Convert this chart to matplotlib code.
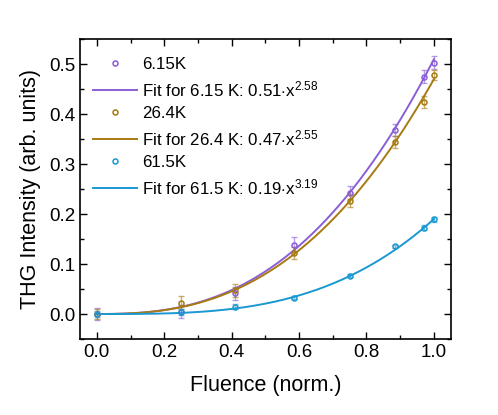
import numpy as np
import matplotlib
matplotlib.use("Agg")
import matplotlib.pyplot as plt
from matplotlib.ticker import MultipleLocator

plt.rcParams['font.family'] = ['Liberation Sans', 'DejaVu Sans']
plt.rcParams['mathtext.fontset'] = 'custom'
plt.rcParams['mathtext.rm'] = 'Liberation Sans'
plt.rcParams['mathtext.it'] = 'Liberation Sans'

fluence = [0.0, 0.25, 0.41, 0.585, 0.75, 0.885, 0.97, 1.0]

y_615 = [0.0, 0.005, 0.042, 0.139, 0.243, 0.368, 0.475, 0.503]
e_615 = [0.012, 0.013, 0.013, 0.015, 0.013, 0.012, 0.013, 0.013]

y_264 = [0.0, 0.023, 0.048, 0.122, 0.227, 0.345, 0.425, 0.479]
e_264 = [0.010, 0.013, 0.013, 0.012, 0.013, 0.012, 0.012, 0.010]

y_615b = [0.0, 0.005, 0.015, 0.033, 0.077, 0.136, 0.173, 0.190]
e_615b = [0.006, 0.006, 0.005, 0.003, 0.003, 0.003, 0.005, 0.005]

labels = ["6.15K", "26.4K", "61.5K"]
fit_temps = ["6.15", "26.4", "61.5"]
fit_amp = [0.51, 0.47, 0.19]
fit_exp = [2.58, 2.55, 3.19]

colors = ["#8a5fd6", "#a87a12", "#1a98d2"]

fig = plt.figure(figsize=(4.98, 4.15), dpi=100)
ax = fig.add_axes([80/498, 1-339/415, (450.7-80)/498, (339-39.3)/415])

xf = np.linspace(0, 1, 200)
series = [(y_615, e_615), (y_264, e_264), (y_615b, e_615b)]
handles = []
hlabels = []
for i, (y, e) in enumerate(series):
    c = colors[i]
    ax.errorbar(fluence, y, yerr=e, fmt='none', ecolor=c, alpha=0.6,
                elinewidth=1.0, capsize=2.5, capthick=1.0, zorder=2)
    h1, = ax.plot(fluence, y, 'o', ms=3.6, mfc='none', mec=c, mew=1.1, zorder=3)
    h2, = ax.plot(xf, fit_amp[i] * xf ** fit_exp[i], '-', color=c, lw=1.4, zorder=2)
    handles += [h1, h2]
    hlabels += [labels[i],
                "Fit for %s K: %.2f$\\cdot$x$^{%.2f}$" % (fit_temps[i], fit_amp[i], fit_exp[i])]

ax.set_xlim(-0.05, 1.05)
ax.set_ylim(-0.05, 0.55)
ax.xaxis.set_major_locator(MultipleLocator(0.2))
ax.xaxis.set_minor_locator(MultipleLocator(0.1))
ax.yaxis.set_major_locator(MultipleLocator(0.1))
ax.yaxis.set_minor_locator(MultipleLocator(0.05))
ax.tick_params(which='both', direction='in', top=True, right=True, labelsize=13.5, width=1.0)
ax.tick_params(which='major', length=5)
ax.tick_params(which='minor', length=3)
for s in ax.spines.values():
    s.set_linewidth(1.2)
ax.set_xlabel("Fluence (norm.)", fontsize=15.5, labelpad=10)
ax.set_ylabel("THG Intensity (arb. units)", fontsize=15.5, labelpad=6)

ax.legend(handles, hlabels, loc='upper left', frameon=False, fontsize=12.2,
          handlelength=2.6, handletextpad=0.3, labelspacing=0.42,
          bbox_to_anchor=(0.008, 0.975), borderaxespad=0.2)

fig.savefig("out.png", dpi=100)
